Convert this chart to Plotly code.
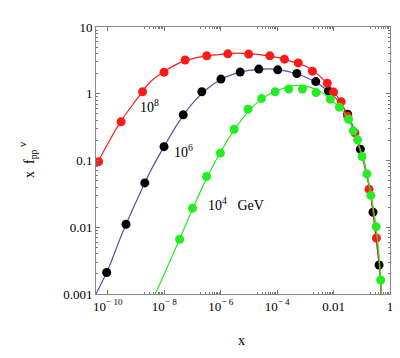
import plotly.graph_objects as go

# ---- data (x values and x*f values) ----
# markers, E = 1e8 GeV (red)
x_e8 = [4.7e-11, 2.95e-10, 1.7e-9, 9.8e-9, 5.5e-8, 3.2e-7, 1.78e-6, 9.8e-6, 5.5e-5,
        1.82e-4, 5.6e-4, 1.78e-3, 6.0e-3, 1.0e-2, 1.86e-2, 3.16e-2, 5.7e-2, 0.18, 0.33]
y_e8 = [0.096, 0.38, 1.07, 2.1, 3.2, 3.7, 3.96, 3.93, 3.7, 3.3, 2.9, 2.18, 1.44, 1.06,
        0.76, 0.46, 0.26, 0.037, 0.0069]
# markers, E = 1e6 GeV (black)
x_e6 = [9.1e-11, 4.4e-10, 2.04e-9, 9.8e-9, 4.7e-8, 2.14e-7, 1.02e-6, 4.9e-6, 2.24e-5,
        1.05e-4, 5.0e-4, 2.34e-3, 6.6e-3, 3.16e-2, 8.9e-2, 0.25, 0.41]
y_e6 = [0.0021, 0.0111, 0.0462, 0.161, 0.483, 1.07, 1.66, 2.11, 2.34, 2.28, 2.01, 1.52,
        1.10, 0.494, 0.148, 0.0168, 0.00272]
# markers, E = 1e4 GeV (green)
x_e4 = [3.5e-8, 1.0e-7, 3.16e-7, 9.8e-7, 3.0e-6, 9.3e-6, 2.8e-5, 8.5e-5, 2.57e-4,
        7.9e-4, 2.4e-3, 7.6e-3, 1.6e-2, 3.4e-2, 5.0e-2, 7.1e-2, 0.102, 0.151, 0.209,
        0.324, 0.468]
y_e4 = [0.0066, 0.0193, 0.0575, 0.129, 0.294, 0.588, 0.847, 1.07, 1.18, 1.18, 1.04,
        0.83, 0.63, 0.415, 0.278, 0.204, 0.115, 0.063, 0.030, 0.0102, 0.00162]

# fitted curves
cx_e8 = [3.8e-11, 1e-10, 3.16e-10, 1e-9, 3.16e-9, 1e-8, 3.16e-8, 1e-7, 3.16e-7, 1e-6,
         4.4e-6, 1e-5, 3.16e-5, 1e-4, 3.16e-4, 1e-3, 3.16e-3, 1e-2, 3.16e-2, 0.1, 0.2,
         0.316, 0.42, 0.49]
cy_e8 = [0.083, 0.18, 0.41, 0.80, 1.5, 2.15, 2.85, 3.35, 3.7, 3.9, 4.05, 4.0, 3.8, 3.5,
         3.05, 2.6, 1.85, 1.1, 0.46, 0.115, 0.032, 0.0075, 0.0025, 0.001]
cx_e6 = [3.8e-11, 1e-10, 3.16e-10, 1e-9, 3.16e-9, 1e-8, 3.16e-8, 1e-7, 3.16e-7, 1e-6,
         3.16e-6, 1e-5, 5.6e-5, 1e-4, 3.16e-4, 1e-3, 3.16e-3, 1e-2, 3.16e-2, 0.1, 0.2,
         0.316, 0.42, 0.49]
cy_e6 = [0.001, 0.0023, 0.0079, 0.024, 0.068, 0.164, 0.37, 0.72, 1.17, 1.64, 2.0, 2.24,
         2.36, 2.3, 2.1, 1.78, 1.38, 0.93, 0.49, 0.13, 0.034, 0.0075, 0.0025, 0.001]
cx_e4 = [4.8e-9, 1e-8, 3.16e-8, 1e-7, 3.16e-7, 1e-6, 3.16e-6, 1e-5, 3.16e-5, 1e-4,
         3.16e-4, 5.6e-4, 1e-3, 3.16e-3, 1e-2, 3.16e-2, 0.1, 0.2, 0.316, 0.42, 0.49]
cy_e4 = [0.001, 0.002, 0.006, 0.0186, 0.054, 0.135, 0.295, 0.56, 0.86, 1.12, 1.3, 1.34,
         1.3, 1.1, 0.76, 0.44, 0.125, 0.035, 0.0105, 0.0033, 0.001]

# axis ticks
x_tickvals = [1e-10, 1e-8, 1e-6, 1e-4, 1e-2, 1]
x_ticktext = ["10<sup>\u2212 10</sup>", "10<sup>\u2212 8</sup>", "10<sup>\u2212 6</sup>",
              "10<sup>\u2212 4</sup>", "0.01", "1"]
y_tickvals = [0.001, 0.01, 0.1, 1, 10]
y_ticktext = ["0.001", "0.01", "0.1", "1", "10"]

RED = "#ff1a1a"
BLUE = "#5252a8"
GREEN = "#22ee22"
FONT = "Liberation Serif"

fig = go.Figure()
fig.add_trace(go.Scatter(x=cx_e6, y=cy_e6, mode="lines", line=dict(color=BLUE, width=1.2, shape="spline"), showlegend=False))
fig.add_trace(go.Scatter(x=x_e6, y=y_e6, mode="markers", marker=dict(color="black", size=9), showlegend=False))
fig.add_trace(go.Scatter(x=cx_e8, y=cy_e8, mode="lines", line=dict(color=RED, width=1.2, shape="spline"), showlegend=False))
fig.add_trace(go.Scatter(x=x_e8, y=y_e8, mode="markers", marker=dict(color=RED, size=9), showlegend=False))
fig.add_trace(go.Scatter(x=cx_e4, y=cy_e4, mode="lines", line=dict(color=GREEN, width=1.2, shape="spline"), showlegend=False))
fig.add_trace(go.Scatter(x=x_e4, y=y_e4, mode="markers", marker=dict(color=GREEN, size=9), showlegend=False))

x_minor = []
for k in [-9, -7, -5, -3, -1]:
    for m in range(2, 10):
        x_minor.append(m * 10 ** k)

fig.update_xaxes(type="log", range=[-10.42, 0], tickmode="array", tickvals=x_tickvals, ticktext=x_ticktext,
                 ticks="inside", ticklen=4, tickcolor="#777", showline=True, linecolor="#888", linewidth=1,
                 mirror="ticks", showgrid=False, zeroline=False,
                 minor=dict(ticks="inside", ticklen=2, tickcolor="#777", tickmode="array", tickvals=x_minor),
                 tickfont=dict(family=FONT, size=13, color="black"))
fig.update_yaxes(type="log", range=[-3, 1], tickmode="array", tickvals=y_tickvals, ticktext=y_ticktext,
                 ticks="inside", ticklen=4, tickcolor="#777", showline=True, linecolor="#888", linewidth=1,
                 mirror="ticks", showgrid=False, zeroline=False,
                 minor=dict(ticks="inside", ticklen=2, tickcolor="#777", dtick="D1"),
                 tickfont=dict(family=FONT, size=13, color="black"))

ann_font = dict(family=FONT, size=14, color="black")
fig.add_annotation(x=-8.93, y=-0.18, xref="x", yref="y", text="10<sup>8</sup>", showarrow=False,
                   xanchor="left", yanchor="middle", font=ann_font)
fig.add_annotation(x=-7.72, y=-0.86, xref="x", yref="y", text="10<sup>6</sup>", showarrow=False,
                   xanchor="left", yanchor="middle", font=ann_font)
fig.add_annotation(x=-6.51, y=-1.65, xref="x", yref="y", text="10<sup>4</sup>   GeV", showarrow=False,
                   xanchor="left", yanchor="middle", font=ann_font)

# axis titles (positions given relative to the plot frame)
fig.add_annotation(x=(243 - 95.7) / 297, y=(294 - 340) / 267, xref="paper", yref="paper", text="x",
                   showarrow=False, xanchor="center", yanchor="middle", font=ann_font)
fig.add_annotation(x=(29 - 95.7) / 297, y=(294 - 163) / 267, xref="paper", yref="paper",
                   text="x  f<sub>pp</sub>", textangle=-90,
                   showarrow=False, xanchor="center", yanchor="middle", font=ann_font)
fig.add_annotation(x=(21 - 95.7) / 297, y=(294 - 145) / 267, xref="paper", yref="paper",
                   text="\u03bd", textangle=-90,
                   showarrow=False, xanchor="center", yanchor="middle", font=dict(family=FONT, size=11, color="black"))

# the page body adds an 8 px offset; the figure is sized to fit the window
fig.update_layout(width=392, height=350, margin=dict(l=88, r=7, t=19, b=64),
                  plot_bgcolor="white", paper_bgcolor="white", font=dict(family=FONT, size=13, color="black"))

fig.write_html("out.html")
